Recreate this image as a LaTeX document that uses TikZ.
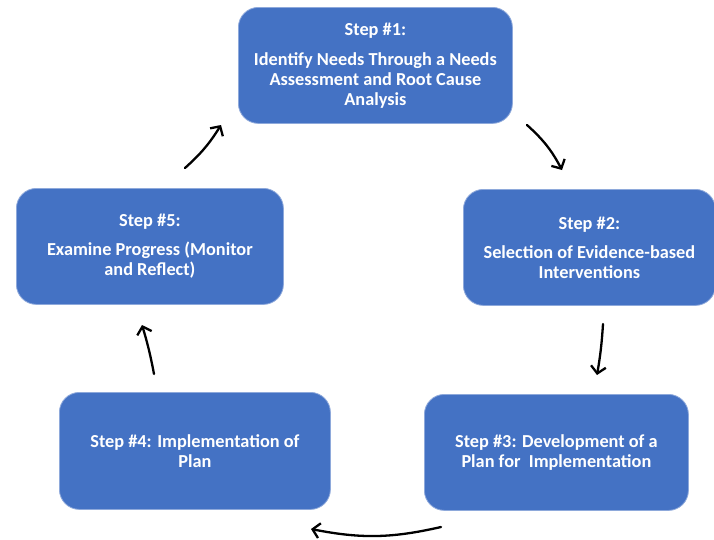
\documentclass[tikz,border=0pt]{standalone}
\usepackage{fontspec}
\setmainfont{Carlito}
\usetikzlibrary{arrows.meta}
\definecolor{stepblue}{HTML}{4472C4}
\definecolor{stepedge}{HTML}{8EA9DB}
\begin{document}
\begin{tikzpicture}[x=1pt,y=-1pt,
  stepbox/.style={fill=stepblue, draw=stepedge, line width=0.8pt,
    rounded corners=20pt, text=white, align=center, inner sep=0pt,
    anchor=north west, font=\bfseries\fontsize{18.3}{20}\selectfont},
  flow/.style={line width=2.3pt, line cap=round,
    -{Straight Barb[length=7pt,width=15pt,line width=2.3pt]}}]
\useasboundingbox (0,0) rectangle (714,539);
\clip (0,0) rectangle (714,539);
\fill[white] (0,0) rectangle (714,539);

% the five steps of the cycle
\node[stepbox, minimum width=274pt, minimum height=116pt] (s1) at (238,7)
  {Step \#1:\\[10pt]Identify Needs Through a Needs\\Assessment and Root Cause\\Analysis};
\node[stepbox, minimum width=252pt, minimum height=116pt] (s2) at (463,189)
  {Step \#2:\\[9pt]Selection of Evidence-based\\Interventions};
\node[stepbox, minimum width=264pt, minimum height=116pt] (s3) at (424,394)
  {Step \#3: Development of a\\Plan for\ \ Implementation};
\node[stepbox, minimum width=271pt, minimum height=117pt] (s4) at (59,392)
  {Step \#4: Implementation of\\Plan};
\node[stepbox, minimum width=267pt, minimum height=116pt] (s5) at (16,188)
  {Step \#5:\\[9pt]Examine Progress (Monitor\\and Reflect)};

% arrow end points between the boxes
\coordinate (a12) at (527,125);
\coordinate (b12) at (562,170);
\coordinate (a23) at (603,324);
\coordinate (b23) at (597,375);
\coordinate (a34) at (441,527);
\coordinate (b34) at (311,529);
\coordinate (a45) at (154,374);
\coordinate (b45) at (142,325);
\coordinate (a51) at (185,168);
\coordinate (b51) at (221,125);

\draw[flow] (a12) to[bend left=10] (b12);
\draw[flow] (a23) to[bend left=3] (b23);
\draw[flow] (a34) to[bend left=12] (b34);
\draw[flow] (a45) to[bend right=3] (b45);
\draw[flow] (a51) to[bend right=8] (b51);
\end{tikzpicture}
\end{document}
